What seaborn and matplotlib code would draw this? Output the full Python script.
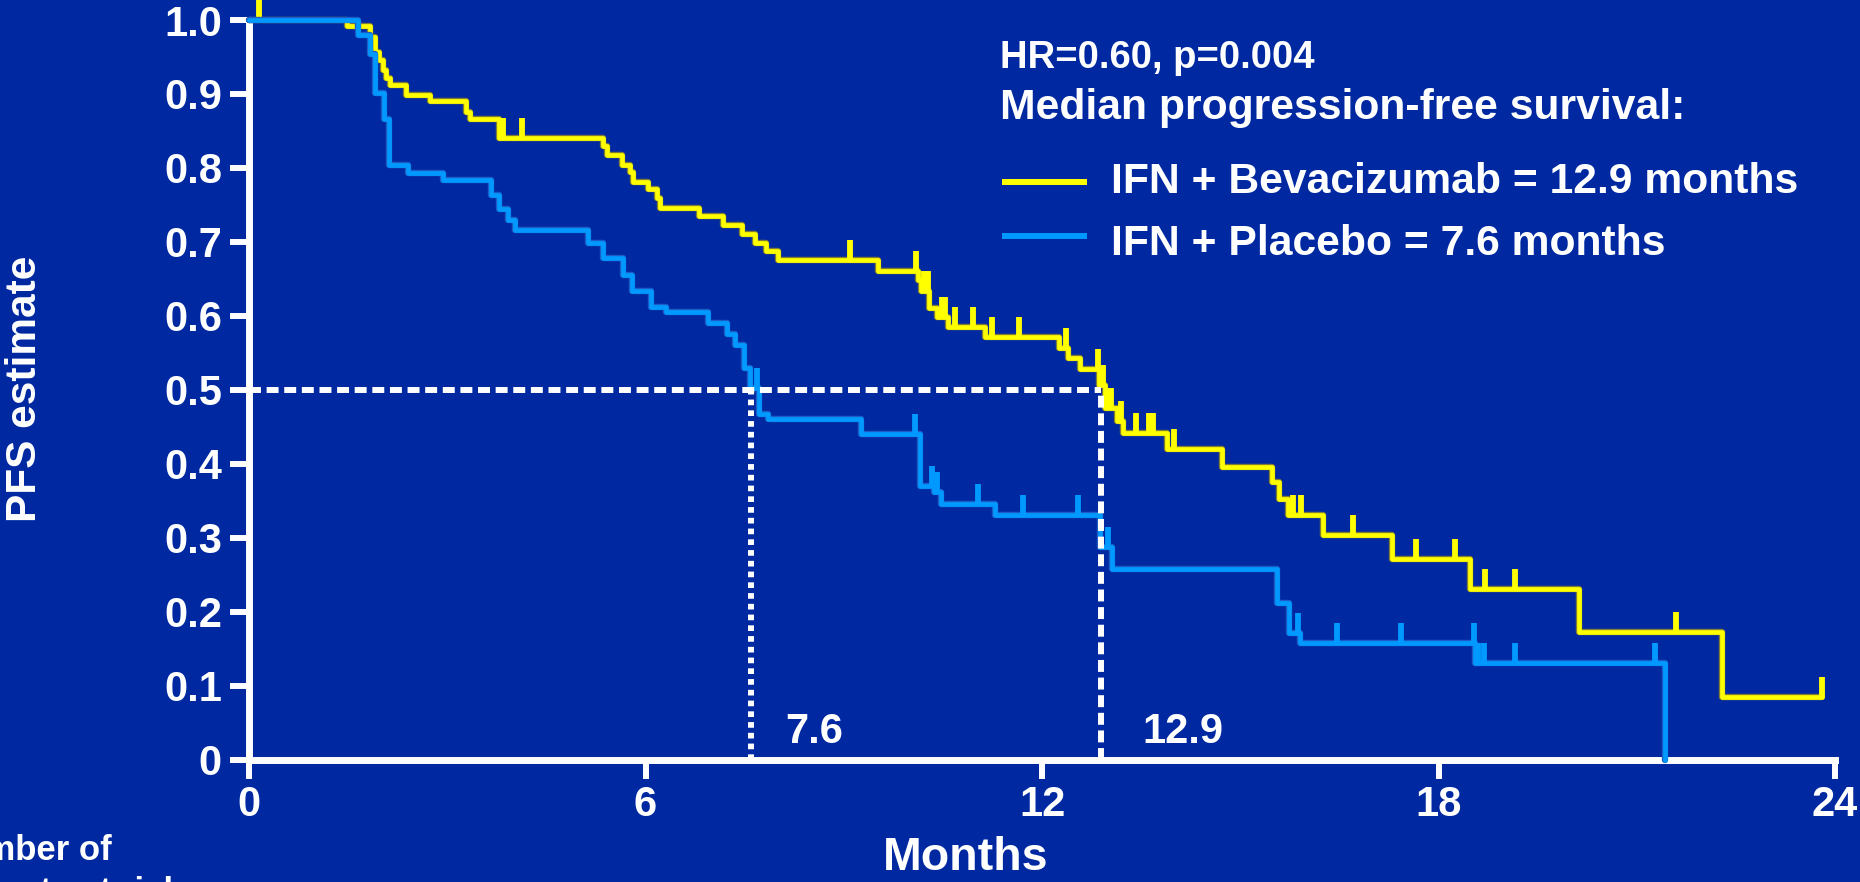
import numpy as np
import pandas as pd
import matplotlib
matplotlib.use("Agg")
import matplotlib.pyplot as plt
import matplotlib.patheffects as pe
from matplotlib.lines import Line2D
import seaborn as sns

# ---- Kaplan-Meier progression-free survival, IFN + Bevacizumab ----
bev_event_months = [1.49, 1.83, 1.91, 1.96, 2.03, 2.08, 2.14, 2.38, 2.74, 3.29,
                    3.34, 3.78, 5.35, 5.41, 5.64, 5.77, 5.81, 6.04, 6.17, 6.22,
                    6.81, 7.18, 7.46, 7.65, 7.83, 8.01, 9.52, 10.13, 10.17, 10.29,
                    10.41, 10.58, 11.14, 12.25, 12.40, 12.57, 12.87, 12.95, 13.13, 13.23,
                    13.89, 14.73, 15.48, 15.58, 15.73, 16.25, 17.29, 18.48, 20.12, 22.29]
bev_event_pfs = [0.992, 0.977, 0.957, 0.946, 0.932, 0.921, 0.912, 0.898, 0.890, 0.876,
                 0.866, 0.841, 0.829, 0.817, 0.804, 0.794, 0.781, 0.771, 0.759, 0.746,
                 0.735, 0.723, 0.710, 0.698, 0.687, 0.675, 0.660, 0.648, 0.633, 0.611,
                 0.598, 0.585, 0.572, 0.556, 0.543, 0.528, 0.506, 0.475, 0.458, 0.442,
                 0.420, 0.396, 0.375, 0.352, 0.331, 0.304, 0.271, 0.231, 0.173, 0.085]
bev_last_month = 23.80
bev_censor_months = [0.15, 3.85, 4.13, 9.09, 10.09, 10.22, 10.27, 10.48, 10.53, 10.68,
                     10.96, 11.24, 11.65, 12.36, 12.84, 12.92, 13.00, 13.05, 13.20, 13.42,
                     13.62, 13.68, 14.00, 15.80, 15.92, 16.70, 17.66, 18.25, 18.70, 19.16,
                     21.60, 23.80]

# ---- Kaplan-Meier progression-free survival, IFN + Placebo ----
pla_event_months = [1.65, 1.83, 1.91, 2.04, 2.12, 2.41, 2.93, 3.66, 3.78, 3.92,
                    4.03, 5.13, 5.36, 5.66, 5.79, 6.09, 6.31, 6.94, 7.24, 7.36,
                    7.49, 7.58, 7.72, 7.86, 9.26, 10.15, 10.37, 10.47, 11.29, 12.88,
                    13.06, 15.56, 15.74, 15.90, 18.55, 21.43]
pla_event_pfs = [0.980, 0.954, 0.901, 0.866, 0.804, 0.793, 0.783, 0.763, 0.744, 0.729,
                 0.716, 0.699, 0.678, 0.655, 0.633, 0.612, 0.605, 0.590, 0.576, 0.561,
                 0.529, 0.502, 0.467, 0.461, 0.440, 0.370, 0.362, 0.345, 0.331, 0.288,
                 0.258, 0.212, 0.171, 0.157, 0.131, 0.0]
pla_last_month = 21.43
pla_censor_months = [7.69, 10.08, 10.33, 10.41, 11.03, 11.72, 12.54, 13.00, 15.87, 16.46,
                     17.44, 18.53, 18.60, 18.69, 19.16, 21.28]

arm_names = ["IFN + Bevacizumab", "IFN + Placebo"]
median_months = [12.9, 7.6]
median_labels = ["12.9", "7.6"]
stats_lines = ["HR=0.60, p=0.004", "Median progression-free survival:"]
x_ticks = [0, 6, 12, 18, 24]
y_ticks = [0, 0.1, 0.2, 0.3, 0.4, 0.5, 0.6, 0.7, 0.8, 0.9, 1.0]

BG = "#0029A1"
YELLOW = "#FFFF00"
BLUE = "#0099FF"
WHITE = "white"


def km_frame(times, levels, last, arm):
    t = [0.0] + list(times) + [last]
    s = [1.0] + list(levels) + [levels[-1]]
    return pd.DataFrame({"month": t, "pfs": s, "arm": arm})


def level_at(df, months):
    t = df["month"].to_numpy()
    s = df["pfs"].to_numpy()
    idx = np.searchsorted(t, months, side="right") - 1
    return s[np.clip(idx, 0, len(s) - 1)]


bev = km_frame(bev_event_months, bev_event_pfs, bev_last_month, arm_names[0])
pla = km_frame(pla_event_months, pla_event_pfs, pla_last_month, arm_names[1])
km = pd.concat([bev, pla], ignore_index=True)

sns.set_theme(style="white")
plt.rcParams["font.family"] = ["Liberation Sans", "DejaVu Sans"]
plt.rcParams["font.weight"] = "bold"

W, H = 1860, 882
fig = plt.figure(figsize=(W / 100, H / 100), dpi=100, facecolor=BG)


def fx(px):
    return px / W


def fy(py):
    return 1 - py / H


ax = fig.add_axes([fx(249), fy(759.5), fx(1835) - fx(249), fy(20) - fy(759.5)])
ax.set_facecolor(BG)

styles = {
    arm_names[0]: (YELLOW, "#7f7d35", 3),
    arm_names[1]: (BLUE, "#1c5cc4", 4),
}
for arm, (color, edge, z) in styles.items():
    sns.lineplot(data=km[km["arm"] == arm], x="month", y="pfs", ax=ax,
                 estimator=None, sort=False, drawstyle="steps-post",
                 color=color, linewidth=3.4, clip_on=False, zorder=z,
                 legend=False,
                 path_effects=[pe.Stroke(linewidth=4.6, foreground=edge), pe.Normal()])

# censoring marks rise from the curve
tick_h = 0.027
for frame, cens, color, z in [(bev, bev_censor_months, YELLOW, 3.5),
                              (pla, pla_censor_months, BLUE, 4.5)]:
    cens = np.asarray(cens)
    lev = level_at(frame, cens)
    ax.vlines(cens, lev, lev + tick_h, colors=color, linewidth=4.2,
              zorder=z, clip_on=False)

# median guides
m_max = max(median_months)
ax.plot([0, m_max], [0.5, 0.5], color=WHITE, lw=4.3, dashes=(2.0, 0.95),
        dash_capstyle="butt", zorder=6)
ax.plot([median_months[0]] * 2, [0, 0.5], color=WHITE, lw=4.3, dashes=(2.0, 0.95),
        dash_capstyle="butt", zorder=6)
ax.plot([median_months[1]] * 2, [0, 0.5], color=WHITE, lw=4.3, dashes=(0.95, 0.85),
        dash_capstyle="butt", zorder=6)
for m, lab, off in zip(median_months, median_labels, [41, 34]):
    ax.annotate(lab, xy=(m, 0), xytext=(off, 16.5), textcoords="offset pixels",
                color=WHITE, fontsize=30, fontweight="bold",
                ha="left", va="baseline")

ax.set_xlim(0, 24)
ax.set_ylim(0, 1.0)
ax.set_xticks(x_ticks)
ax.set_xticklabels([str(v) for v in x_ticks])
ax.set_yticks(y_ticks)
ax.set_yticklabels(["0" if v == 0 else f"{v:.1f}" for v in y_ticks])
ax.set_xlabel("")
ax.set_ylabel("")
for side in ["top", "right"]:
    ax.spines[side].set_visible(False)
for side in ["left", "bottom"]:
    ax.spines[side].set_color(WHITE)
    ax.spines[side].set_linewidth(5.0)
ax.tick_params(axis="both", which="major", bottom=True, left=True,
               direction="out", length=14, width=4.3, color=WHITE,
               labelcolor=WHITE, labelsize=30)
ax.tick_params(axis="x", pad=4.3)
ax.tick_params(axis="y", pad=5.5)
for lab in ax.get_xticklabels() + ax.get_yticklabels():
    lab.set_fontweight("bold")

# axis titles
fig.text(fx(966), fy(870), "Months", color=WHITE, fontsize=33.5,
         fontweight="bold", ha="center", va="baseline")
fig.text(fx(25), fy(389), "PFS estimate", color=WHITE, fontsize=30.5,
         fontweight="bold", rotation=90, ha="center", va="center")
fig.text(fx(-62), fy(860), "Number of", color=WHITE, fontsize=25,
         fontweight="bold", ha="left", va="baseline")
fig.text(fx(-62), fy(902), "patients at risk", color=WHITE, fontsize=25,
         fontweight="bold", ha="left", va="baseline")

# statistics and legend
fig.text(fx(1000), fy(68), stats_lines[0], color=WHITE, fontsize=27.5,
         fontweight="bold", ha="left", va="baseline")
fig.text(fx(1000), fy(119), stats_lines[1], color=WHITE, fontsize=30.7,
         fontweight="bold", ha="left", va="baseline")
for name, med, color, y_line, y_base in [
        (arm_names[0], median_months[0], YELLOW, 182, 193),
        (arm_names[1], median_months[1], BLUE, 236, 255)]:
    fig.add_artist(Line2D([fx(1002), fx(1087)], [fy(y_line), fy(y_line)],
                          transform=fig.transFigure, color=color, lw=4.3,
                          solid_capstyle="butt"))
    fig.text(fx(1111), fy(y_base), f"{name} = {med} months", color=WHITE,
             fontsize=30.7, fontweight="bold", ha="left", va="baseline")

fig.savefig("out.png", dpi=100, facecolor=BG)
